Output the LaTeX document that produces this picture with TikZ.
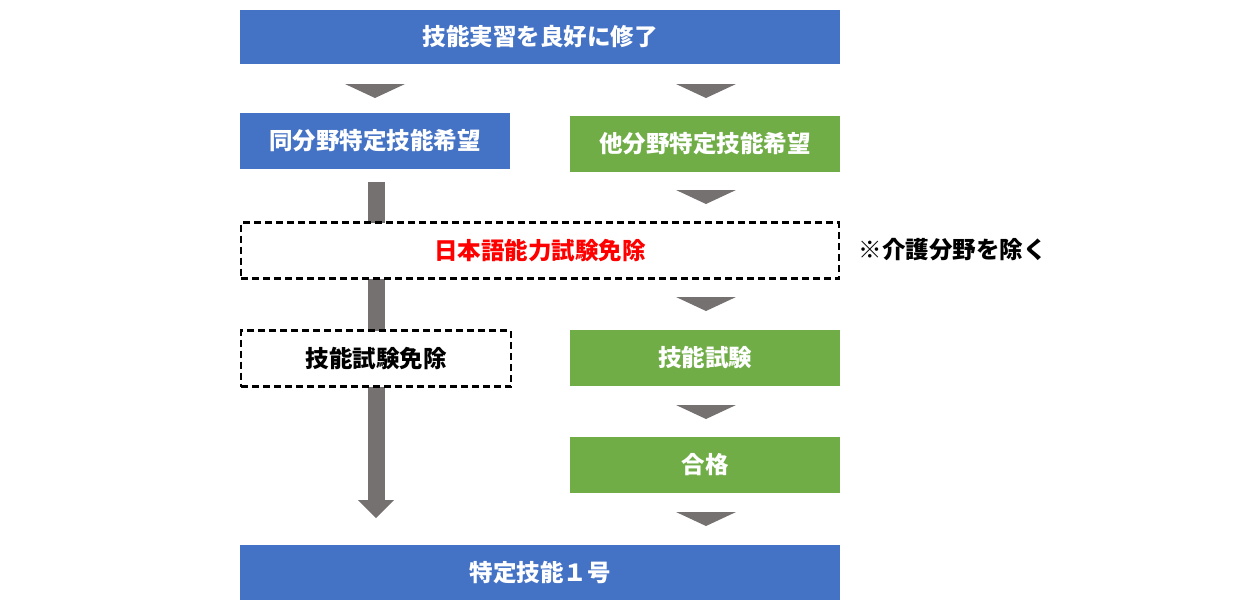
\documentclass[tikz,border=0pt]{standalone}
\usepackage{fontspec}
\newfontfamily\cjk{Noto Sans CJK JP}
\definecolor{bl}{HTML}{4472C4}
\definecolor{gr}{HTML}{70AD47}
\definecolor{gy}{HTML}{767171}
\definecolor{rd}{HTML}{FF0000}
\begin{document}
\begin{tikzpicture}[x=1pt,y=-1pt,
  box/.style={minimum height=56pt,inner sep=0pt,font=\cjk\bfseries\fontsize{23.5}{26}\selectfont},
  blue/.style={box,fill=bl,text=white},
  green/.style={box,fill=gr,text=white},
  dbox/.style={box,fill=white,draw=black,line width=2.6pt,dash pattern=on 7pt off 4pt},
  tri/.style={fill=gy,draw=none}]
\useasboundingbox (0,0) rectangle (1244,614);
\fill[gy] (368,182) rectangle (385,500);
\fill[gy] (358,500) -- (394,500) -- (376,518) -- cycle;
\node[blue,minimum width=600pt,minimum height=54pt] (top) at (540,37) {技能実習を良好に修了};
\node[blue,minimum width=270pt] (same) at (375,141) {同分野特定技能希望};
\node[green,minimum width=270pt] (other) at (705,144) {他分野特定技能希望};
\node[dbox,minimum width=598pt,minimum height=56pt,text=rd] (jp) at (540,250.5) {日本語能力試験免除};
\node[anchor=west,font=\cjk\bfseries\fontsize{23.5}{26}\selectfont] (note) at (855,250) {※介護分野を除く};
\node[dbox,minimum width=270pt,text=black] (skx) at (376,358.5) {技能試験免除};
\node[green,minimum width=270pt] (sk) at (705,358) {技能試験};
\node[green,minimum width=270pt] (pass) at (705,465) {合格};
\node[blue,minimum width=600pt,minimum height=55pt] (fin) at (540,572.5) {特定技能１号};
\foreach \cx/\y in {375/84,706/84,706/190,706/297,706/405,706/512}
  \fill[gy] (\cx-30,\y) -- (\cx+30,\y) -- (\cx,\y+14) -- cycle;
\end{tikzpicture}
\end{document}
